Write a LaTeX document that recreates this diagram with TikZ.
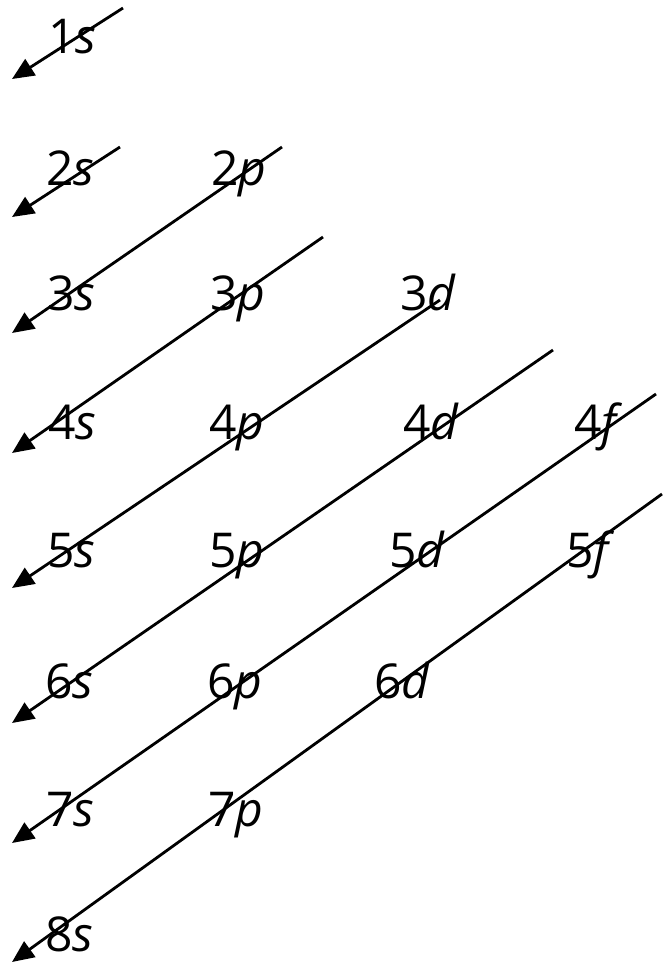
\documentclass[tikz,border=0pt]{standalone}
\usepackage{fontspec}
\setmainfont{Open Sans}
\usetikzlibrary{arrows.meta}
\begin{document}
\begin{tikzpicture}[x=1pt,y=-1pt,
  lbl/.style={anchor=base west,inner sep=0pt,font=\fontsize{48}{48}\selectfont},
  arr/.style={line width=2.8pt,-{Triangle[length=22pt,width=19pt]}}]
\useasboundingbox (0,0) rectangle (662,970);
% labels
\node[lbl] (s1) at (48,53) {1\textit{s}};
\node[lbl] (s2) at (46,185) {2\textit{s}};
\node[lbl] (p2) at (211,185) {2\textit{p}};
\node[lbl] (s3) at (47,310) {3\textit{s}};
\node[lbl] (p3) at (210,310) {3\textit{p}};
\node[lbl] (d3) at (400,310) {3\textit{d}};
\node[lbl] (s4) at (48,439) {4\textit{s}};
\node[lbl] (p4) at (209,439) {4\textit{p}};
\node[lbl] (d4) at (403,439) {4\textit{d}};
\node[lbl] (f4) at (574,439) {4\textit{f}};
\node[lbl] (s5) at (47,567) {5\textit{s}};
\node[lbl] (p5) at (209,567) {5\textit{p}};
\node[lbl] (d5) at (389,567) {5\textit{d}};
\node[lbl] (f5) at (566,567) {5\textit{f}};
\node[lbl] (s6) at (45,698) {6\textit{s}};
\node[lbl] (p6) at (207,698) {6\textit{p}};
\node[lbl] (d6) at (374,698) {6\textit{d}};
\node[lbl] (s7) at (46,826) {7\textit{s}};
\node[lbl] (p7) at (208,826) {7\textit{p}};
\node[lbl] (s8) at (45,951) {8\textit{s}};
% arrow end points
\coordinate (a1) at (123,8);   \coordinate (b1) at (12,79);
\coordinate (a2) at (120,147); \coordinate (b2) at (12,217);
\coordinate (a3) at (282,147); \coordinate (b3) at (12,333);
\coordinate (a4) at (323,237); \coordinate (b4) at (12,453);
\coordinate (a5) at (440,300); \coordinate (b5) at (12,588);
\coordinate (a6) at (553,350); \coordinate (b6) at (12,723);
\coordinate (a7) at (656,394); \coordinate (b7) at (12,843);
\coordinate (a8) at (662,494); \coordinate (b8) at (12,962);
\foreach \i in {1,...,8}{\draw[arr] (a\i) -- (b\i);}
\end{tikzpicture}
\end{document}
